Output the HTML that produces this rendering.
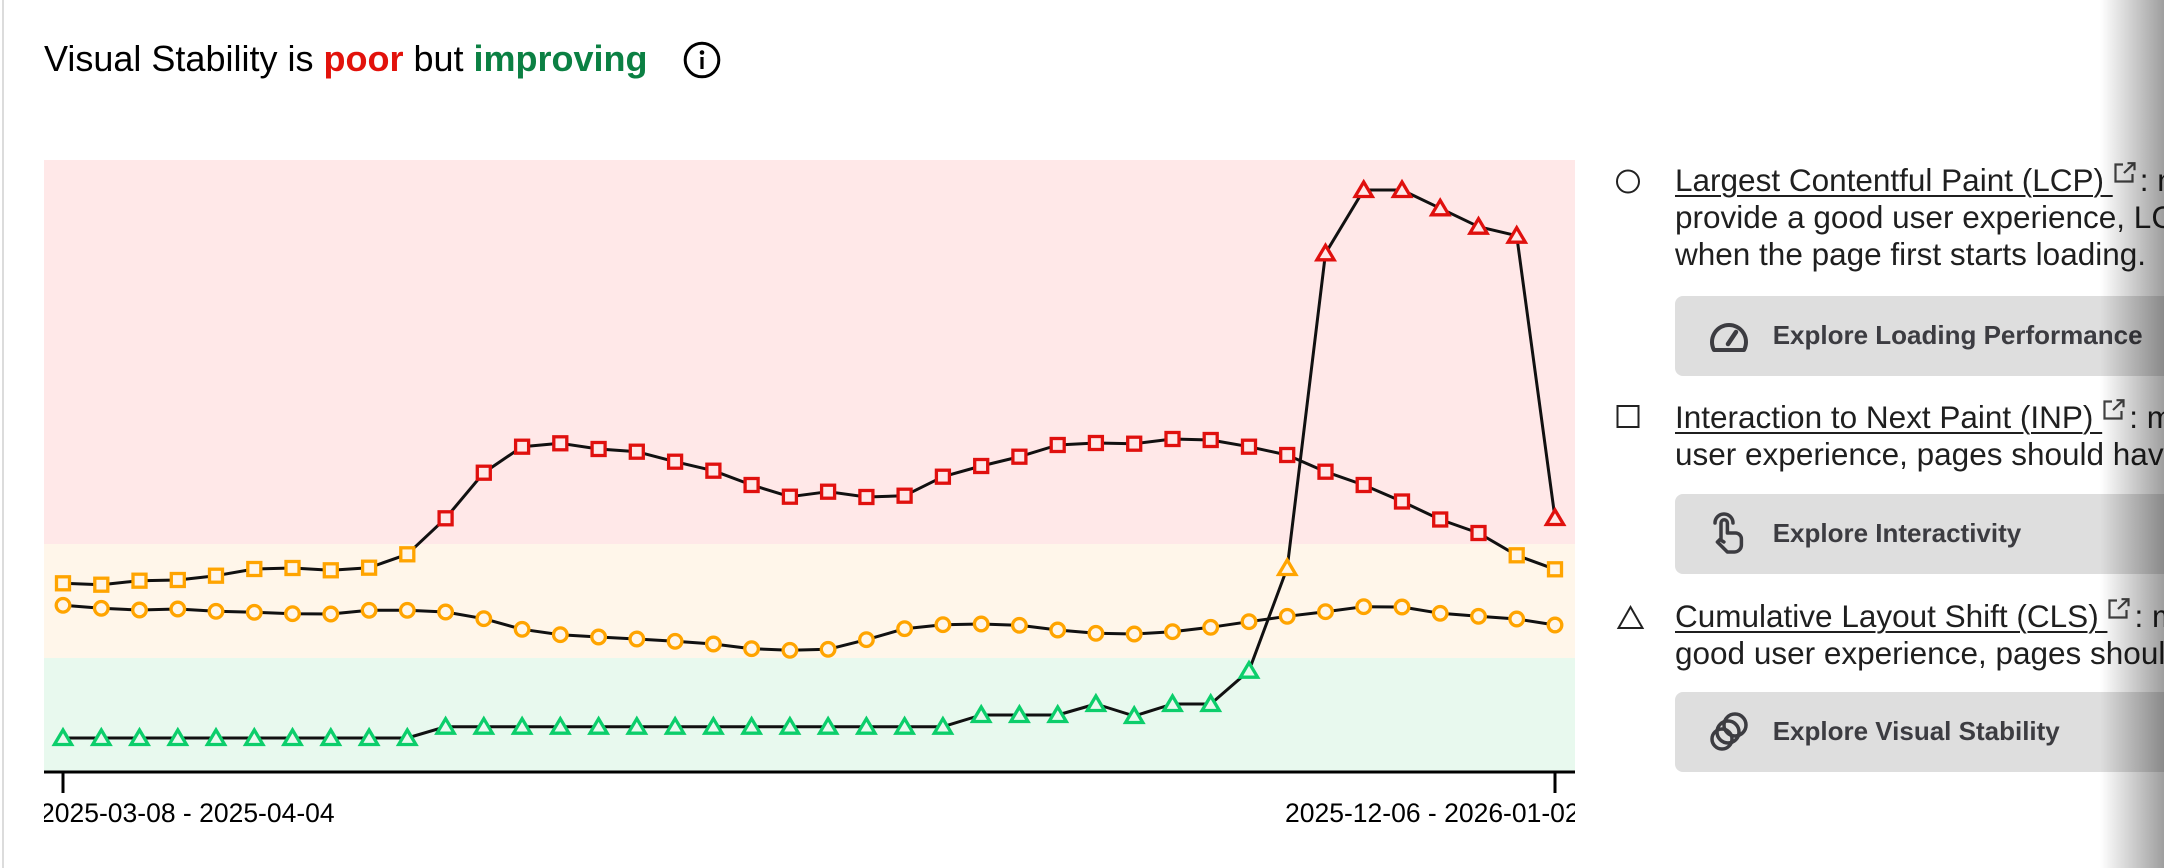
<!DOCTYPE html>
<html>
<head>
<meta charset="utf-8">
<style>
  html,body{margin:0;padding:0;background:#fff;}
  body{width:2168px;height:868px;position:relative;overflow:hidden;font-family:"Liberation Sans",Arial,sans-serif;}
  #clip{position:absolute;left:0;top:0;width:2164px;height:868px;overflow:hidden;background:#fff;}
  #lborder{position:absolute;left:2px;top:0;width:2px;height:868px;background:#dcdcdc;}
  #title{position:absolute;left:44px;top:40.5px;font-size:36px;line-height:36px;color:#000;white-space:nowrap;}
  #title .p{color:#e2120b;font-weight:bold;}
  #title .g{color:#0b8043;font-weight:bold;}
  #info{position:absolute;left:683px;top:41px;}
  svg#chart{position:absolute;left:0;top:0;}
  .o{stroke:#ffa400;}
  .r{stroke:#e0100e;}
  .g{stroke:#0cce6b;}
  .fr{fill:#ffe8e8;}
  .fy{fill:#fff6ea;}
  .fg{fill:#e8f9ee;}
  .mk use{stroke-width:3.3;}
  .blk{position:absolute;left:1675px;font-size:31.5px;line-height:37px;color:#1f1f1f;white-space:nowrap;}
  .blk .u{text-decoration:underline;text-decoration-thickness:2px;text-underline-offset:4px;}
  .ext{display:inline-block;vertical-align:7px;margin-left:0px;margin-right:2px;}
  .btn{position:absolute;left:1675px;width:620px;height:80px;background:#dedede;border-radius:8px;}
  .btn .t{position:absolute;left:97.7px;top:23.5px;font-size:26px;line-height:30px;font-weight:bold;color:#3c3c41;white-space:nowrap;}
  .btn svg{position:absolute;}
  #shade{position:absolute;left:2100px;top:0;width:64px;height:868px;background:linear-gradient(to right,rgba(0,0,0,0),rgba(0,0,0,0.38));}
</style>
</head>
<body>
<div id="clip">
  <div id="lborder"></div>
  <div id="title">Visual Stability is <span class="p">poor</span> but <span class="g">improving</span></div>
  <svg id="info" width="38" height="38" viewBox="0 0 38 38">
    <circle cx="19" cy="19" r="16.8" fill="none" stroke="#000" stroke-width="3"/>
    <circle cx="19" cy="11.5" r="2.3" fill="#000"/>
    <rect x="17.4" y="16" width="3.2" height="12" fill="#000"/>
  </svg>

  <svg id="chart" width="2168" height="868" viewBox="0 0 2168 868">
    <defs>
      <rect id="sq" x="-6.5" y="-6.5" width="13" height="13"/>
      <circle id="ci" r="6.8"/>
      <path id="tr" d="M0,-8L8.6,6.5L-8.6,6.5Z"/>
      <clipPath id="cp"><rect x="44" y="0" width="1531" height="868"/></clipPath>
    </defs>
    <rect x="44" y="160" width="1531" height="384" fill="#ffe8e8"/>
    <rect x="44" y="544" width="1531" height="114" fill="#fff6ea"/>
    <rect x="44" y="658" width="1531" height="114" fill="#e8f9ee"/>
    <line x1="44" y1="772" x2="1575" y2="772" stroke="#000" stroke-width="3"/>
    <line x1="63" y1="772" x2="63" y2="793" stroke="#000" stroke-width="3"/>
    <line x1="1555" y1="772" x2="1555" y2="793" stroke="#000" stroke-width="3"/>
    <g clip-path="url(#cp)" font-family="Liberation Sans, Arial, sans-serif" font-size="26.5" fill="#000">
      <text x="40" y="822">2025-03-08 - 2025-04-04</text>
      <text x="1285" y="822">2025-12-06 - 2026-01-02</text>
    </g>

    <g fill="none" stroke="#111" stroke-width="3" stroke-linejoin="round">
      <polyline points="63,583.3 101.3,584.7 139.5,580.7 177.8,580 216,575.7 254.3,569 292.5,568 330.8,570.3 369.1,567.7 407.3,554.3 445.6,518.3 483.8,472.7 522.1,446.7 560.3,443.3 598.6,449 636.8,451.7 675.1,461.7 713.4,470.7 751.6,485 789.9,496.7 828.1,491.7 866.4,497 904.6,495.7 942.9,476.7 981.2,466 1019.4,456.7 1057.7,445 1095.9,443 1134.2,443.7 1172.5,439 1210.7,440 1249,446.7 1287.2,455 1325.5,471.7 1363.7,485 1402,501.5 1440.2,519.5 1478.5,533 1516.7,555.3 1555,569.3"/>
      <polyline points="63,605.3 101.3,608.3 139.5,610 177.8,609 216,611.3 254.3,612.3 292.5,613.7 330.8,614 369.1,610.3 407.3,610.3 445.6,612 483.8,618.7 522.1,629.3 560.3,634.7 598.6,637 636.8,639 675.1,641.3 713.4,644 751.6,648.7 789.9,650.3 828.1,649.3 866.4,639.7 904.6,628.7 942.9,624.7 981.2,624 1019.4,625.3 1057.7,630 1095.9,633.3 1134.2,634 1172.5,631.7 1210.7,627.3 1249,621.7 1287.2,616.3 1325.5,611.7 1363.7,606.7 1402,607 1440.2,613.3 1478.5,616.3 1516.7,619 1555,625"/>
      <polyline points="63,738 101.3,738 139.5,738 177.8,738 216,738 254.3,738 292.5,738 330.8,738 369.1,738 407.3,738 445.6,726.7 483.8,726.7 522.1,726.7 560.3,726.7 598.6,726.7 636.8,726.7 675.1,726.7 713.4,726.7 751.6,726.7 789.9,726.7 828.1,726.7 866.4,726.7 904.6,726.7 942.9,726.7 981.2,715 1019.4,715 1057.7,715 1095.9,704 1134.2,716 1172.5,704 1210.7,704 1249,670.7 1287.2,568 1325.5,253.3 1363.7,190 1402,190 1440.2,208.3 1478.5,226.7 1516.7,235.7 1555,518"/>
    </g>

    <g class="mk">
      <use href="#sq" x="63" y="583.3" class="o fy"/>
      <use href="#sq" x="101.3" y="584.7" class="o fy"/>
      <use href="#sq" x="139.5" y="580.7" class="o fy"/>
      <use href="#sq" x="177.8" y="580" class="o fy"/>
      <use href="#sq" x="216" y="575.7" class="o fy"/>
      <use href="#sq" x="254.3" y="569" class="o fy"/>
      <use href="#sq" x="292.5" y="568" class="o fy"/>
      <use href="#sq" x="330.8" y="570.3" class="o fy"/>
      <use href="#sq" x="369.1" y="567.7" class="o fy"/>
      <use href="#sq" x="407.3" y="554.3" class="o fy"/>
      <use href="#sq" x="445.6" y="518.3" class="r fr"/>
      <use href="#sq" x="483.8" y="472.7" class="r fr"/>
      <use href="#sq" x="522.1" y="446.7" class="r fr"/>
      <use href="#sq" x="560.3" y="443.3" class="r fr"/>
      <use href="#sq" x="598.6" y="449" class="r fr"/>
      <use href="#sq" x="636.8" y="451.7" class="r fr"/>
      <use href="#sq" x="675.1" y="461.7" class="r fr"/>
      <use href="#sq" x="713.4" y="470.7" class="r fr"/>
      <use href="#sq" x="751.6" y="485" class="r fr"/>
      <use href="#sq" x="789.9" y="496.7" class="r fr"/>
      <use href="#sq" x="828.1" y="491.7" class="r fr"/>
      <use href="#sq" x="866.4" y="497" class="r fr"/>
      <use href="#sq" x="904.6" y="495.7" class="r fr"/>
      <use href="#sq" x="942.9" y="476.7" class="r fr"/>
      <use href="#sq" x="981.2" y="466" class="r fr"/>
      <use href="#sq" x="1019.4" y="456.7" class="r fr"/>
      <use href="#sq" x="1057.7" y="445" class="r fr"/>
      <use href="#sq" x="1095.9" y="443" class="r fr"/>
      <use href="#sq" x="1134.2" y="443.7" class="r fr"/>
      <use href="#sq" x="1172.5" y="439" class="r fr"/>
      <use href="#sq" x="1210.7" y="440" class="r fr"/>
      <use href="#sq" x="1249" y="446.7" class="r fr"/>
      <use href="#sq" x="1287.2" y="455" class="r fr"/>
      <use href="#sq" x="1325.5" y="471.7" class="r fr"/>
      <use href="#sq" x="1363.7" y="485" class="r fr"/>
      <use href="#sq" x="1402" y="501.5" class="r fr"/>
      <use href="#sq" x="1440.2" y="519.5" class="r fr"/>
      <use href="#sq" x="1478.5" y="533" class="r fr"/>
      <use href="#sq" x="1516.7" y="555.3" class="o fy"/>
      <use href="#sq" x="1555" y="569.3" class="o fy"/>
      <use href="#ci" x="63" y="605.3" class="o fy"/>
      <use href="#ci" x="101.3" y="608.3" class="o fy"/>
      <use href="#ci" x="139.5" y="610" class="o fy"/>
      <use href="#ci" x="177.8" y="609" class="o fy"/>
      <use href="#ci" x="216" y="611.3" class="o fy"/>
      <use href="#ci" x="254.3" y="612.3" class="o fy"/>
      <use href="#ci" x="292.5" y="613.7" class="o fy"/>
      <use href="#ci" x="330.8" y="614" class="o fy"/>
      <use href="#ci" x="369.1" y="610.3" class="o fy"/>
      <use href="#ci" x="407.3" y="610.3" class="o fy"/>
      <use href="#ci" x="445.6" y="612" class="o fy"/>
      <use href="#ci" x="483.8" y="618.7" class="o fy"/>
      <use href="#ci" x="522.1" y="629.3" class="o fy"/>
      <use href="#ci" x="560.3" y="634.7" class="o fy"/>
      <use href="#ci" x="598.6" y="637" class="o fy"/>
      <use href="#ci" x="636.8" y="639" class="o fy"/>
      <use href="#ci" x="675.1" y="641.3" class="o fy"/>
      <use href="#ci" x="713.4" y="644" class="o fy"/>
      <use href="#ci" x="751.6" y="648.7" class="o fy"/>
      <use href="#ci" x="789.9" y="650.3" class="o fy"/>
      <use href="#ci" x="828.1" y="649.3" class="o fy"/>
      <use href="#ci" x="866.4" y="639.7" class="o fy"/>
      <use href="#ci" x="904.6" y="628.7" class="o fy"/>
      <use href="#ci" x="942.9" y="624.7" class="o fy"/>
      <use href="#ci" x="981.2" y="624" class="o fy"/>
      <use href="#ci" x="1019.4" y="625.3" class="o fy"/>
      <use href="#ci" x="1057.7" y="630" class="o fy"/>
      <use href="#ci" x="1095.9" y="633.3" class="o fy"/>
      <use href="#ci" x="1134.2" y="634" class="o fy"/>
      <use href="#ci" x="1172.5" y="631.7" class="o fy"/>
      <use href="#ci" x="1210.7" y="627.3" class="o fy"/>
      <use href="#ci" x="1249" y="621.7" class="o fy"/>
      <use href="#ci" x="1287.2" y="616.3" class="o fy"/>
      <use href="#ci" x="1325.5" y="611.7" class="o fy"/>
      <use href="#ci" x="1363.7" y="606.7" class="o fy"/>
      <use href="#ci" x="1402" y="607" class="o fy"/>
      <use href="#ci" x="1440.2" y="613.3" class="o fy"/>
      <use href="#ci" x="1478.5" y="616.3" class="o fy"/>
      <use href="#ci" x="1516.7" y="619" class="o fy"/>
      <use href="#ci" x="1555" y="625" class="o fy"/>
      <use href="#tr" x="63" y="738" class="g fg"/>
      <use href="#tr" x="101.3" y="738" class="g fg"/>
      <use href="#tr" x="139.5" y="738" class="g fg"/>
      <use href="#tr" x="177.8" y="738" class="g fg"/>
      <use href="#tr" x="216" y="738" class="g fg"/>
      <use href="#tr" x="254.3" y="738" class="g fg"/>
      <use href="#tr" x="292.5" y="738" class="g fg"/>
      <use href="#tr" x="330.8" y="738" class="g fg"/>
      <use href="#tr" x="369.1" y="738" class="g fg"/>
      <use href="#tr" x="407.3" y="738" class="g fg"/>
      <use href="#tr" x="445.6" y="726.7" class="g fg"/>
      <use href="#tr" x="483.8" y="726.7" class="g fg"/>
      <use href="#tr" x="522.1" y="726.7" class="g fg"/>
      <use href="#tr" x="560.3" y="726.7" class="g fg"/>
      <use href="#tr" x="598.6" y="726.7" class="g fg"/>
      <use href="#tr" x="636.8" y="726.7" class="g fg"/>
      <use href="#tr" x="675.1" y="726.7" class="g fg"/>
      <use href="#tr" x="713.4" y="726.7" class="g fg"/>
      <use href="#tr" x="751.6" y="726.7" class="g fg"/>
      <use href="#tr" x="789.9" y="726.7" class="g fg"/>
      <use href="#tr" x="828.1" y="726.7" class="g fg"/>
      <use href="#tr" x="866.4" y="726.7" class="g fg"/>
      <use href="#tr" x="904.6" y="726.7" class="g fg"/>
      <use href="#tr" x="942.9" y="726.7" class="g fg"/>
      <use href="#tr" x="981.2" y="715" class="g fg"/>
      <use href="#tr" x="1019.4" y="715" class="g fg"/>
      <use href="#tr" x="1057.7" y="715" class="g fg"/>
      <use href="#tr" x="1095.9" y="704" class="g fg"/>
      <use href="#tr" x="1134.2" y="716" class="g fg"/>
      <use href="#tr" x="1172.5" y="704" class="g fg"/>
      <use href="#tr" x="1210.7" y="704" class="g fg"/>
      <use href="#tr" x="1249" y="670.7" class="g fg"/>
      <use href="#tr" x="1287.2" y="568" class="o fy"/>
      <use href="#tr" x="1325.5" y="253.3" class="r fr"/>
      <use href="#tr" x="1363.7" y="190" class="r fr"/>
      <use href="#tr" x="1402" y="190" class="r fr"/>
      <use href="#tr" x="1440.2" y="208.3" class="r fr"/>
      <use href="#tr" x="1478.5" y="226.7" class="r fr"/>
      <use href="#tr" x="1516.7" y="235.7" class="r fr"/>
      <use href="#tr" x="1555" y="518" class="r fr"/>
    </g>

    <circle cx="1628" cy="181.5" r="11" fill="none" stroke="#222" stroke-width="2"/>
    <rect x="1617.5" y="406" width="21" height="21" fill="none" stroke="#222" stroke-width="2"/>
    <path d="M1630.5,607 L1642.5,628 L1618.5,628 Z" fill="none" stroke="#222" stroke-width="2" stroke-linejoin="miter"/>
  </svg>

  <div class="blk" style="top:161.6px;">
    <div><span class="u">Largest Contentful Paint (LCP) </span><svg class="ext" width="25" height="22" viewBox="0 0 25 22"><path d="M10 2.5H2.5v17h17v-7.5" fill="none" stroke="#444" stroke-width="2.2"/><path d="M11 11L21.5 1M14.5 1.2h7v7" fill="none" stroke="#444" stroke-width="2.2"/></svg>: measures loading performance. To</div>
    <div>provide a good user experience, LCP should occur within 2.5 seconds of</div>
    <div>when the page first starts loading.</div>
  </div>
  <div class="btn" style="top:296px;">
    <svg style="left:33px;top:23px" width="42" height="34" viewBox="0 0 42 34">
      <path d="M6 31 A17 17 0 1 1 36 31 Z" fill="none" stroke="#3c3c41" stroke-width="4" stroke-linejoin="round"/>
      <line x1="20" y1="25" x2="28" y2="13" stroke="#3c3c41" stroke-width="4.5" stroke-linecap="round"/>
    </svg>
    <div class="t">Explore Loading Performance</div>
  </div>

  <div class="blk" style="top:398.6px;">
    <div><span class="u">Interaction to Next Paint (INP) </span><svg class="ext" width="25" height="22" viewBox="0 0 25 22"><path d="M10 2.5H2.5v17h17v-7.5" fill="none" stroke="#444" stroke-width="2.2"/><path d="M11 11L21.5 1M14.5 1.2h7v7" fill="none" stroke="#444" stroke-width="2.2"/></svg>: measures interactivity. To provide a good</div>
    <div>user experience, pages should have an INP of 200 milliseconds or less.</div>
  </div>
  <div class="btn" style="top:494px;">
    <svg style="left:34px;top:17px" width="38" height="44" viewBox="0 0 38 44">
      <path d="M6 12 A9 9 0 0 1 24 12" fill="none" stroke="#3c3c41" stroke-width="3.5" stroke-linecap="round"/>
      <path d="M12 28 V12 a3.2 3.2 0 0 1 6.4 0 V22 h8 a6 6 0 0 1 6 6 v6 a7 7 0 0 1 -7 7 h-7 l-10 -10 l2.5 -2.5 l4 2.5" fill="none" stroke="#3c3c41" stroke-width="3.5" stroke-linejoin="round" stroke-linecap="round"/>
    </svg>
    <div class="t">Explore Interactivity</div>
  </div>

  <div class="blk" style="top:597.6px;">
    <div><span class="u">Cumulative Layout Shift (CLS) </span><svg class="ext" width="25" height="22" viewBox="0 0 25 22"><path d="M10 2.5H2.5v17h17v-7.5" fill="none" stroke="#444" stroke-width="2.2"/><path d="M11 11L21.5 1M14.5 1.2h7v7" fill="none" stroke="#444" stroke-width="2.2"/></svg>: measures visual stability. To provide a</div>
    <div>good user experience, pages should maintain a CLS of 0.1. or less.</div>
  </div>
  <div class="btn" style="top:692px;">
    <svg style="left:33px;top:19px" width="42" height="42" viewBox="0 0 42 42">
      <ellipse cx="14" cy="28" rx="10" ry="10" fill="none" stroke="#3c3c41" stroke-width="3.5"/>
      <ellipse cx="20" cy="21" rx="11" ry="11" fill="none" stroke="#3c3c41" stroke-width="3.5"/>
      <ellipse cx="27" cy="14" rx="11" ry="11" fill="none" stroke="#3c3c41" stroke-width="3.5"/>
    </svg>
    <div class="t">Explore Visual Stability</div>
  </div>

  <div id="shade"></div>
</div>
</body>
</html>
